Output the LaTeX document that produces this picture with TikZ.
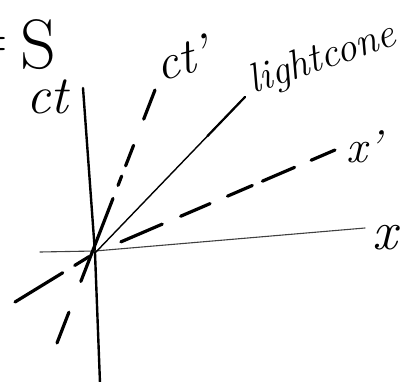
\documentclass[tikz,border=0pt]{standalone}
\usepackage{fontspec}
\usetikzlibrary{calc}
\begin{document}
\begin{tikzpicture}[x=1pt,y=-1pt, line cap=round,
  mainaxis/.style={line width=2.4pt},
  faintaxis/.style={line width=1.1pt, black!75},
  cone/.style={line width=1.4pt},
  dashline/.style={line width=3.2pt},
  lbl/.style={inner sep=0pt}]
\useasboundingbox (0,0) rectangle (413,381);
% coordinates
\coordinate (O) at (95,253);
\coordinate (ctTop) at (83,88);
\coordinate (ctBot) at (100,383);
\coordinate (xL) at (40,252);
\coordinate (xM) at (95,251);
\coordinate (xR) at (365,228);
\coordinate (lcTop) at (245,97);
\coordinate (ctpLo) at (57,343);
\coordinate (ctpHi) at (155,90);
\coordinate (xpLo) at (15,302);
\coordinate (xpHi) at (335,150);
% axes
\draw[mainaxis] (ctTop) -- (O) -- (ctBot);
\draw[faintaxis] (xL) -- (xM) -- (xR);
% light cone
\draw[cone] (O) -- (lcTop);
\draw[line width=2.2pt] ($(O)!0.75!(lcTop)$) -- (lcTop);
% ct' dashed
\draw[dashline, dash pattern=on 33pt off 33pt on 89pt off 14pt on 10pt off 11pt on 22pt off 28pt on 32pt off 10pt] (ctpLo) -- (ctpHi);
% x' dashed
\draw[dashline, dash pattern=on 56pt off 14pt on 17pt off 35pt on 45pt off 20pt on 32pt off 19pt on 27pt off 11pt on 35pt off 18pt on 26pt off 10pt] (xpLo) -- (O) -- (xpHi);
% labels
\node[lbl, font=\fontsize{70}{70}\selectfont] (S) at (38,45) {S};
\node[lbl, anchor=east, font=\fontsize{62}{62}\selectfont] (eq) at (8,48) {=};
\node[lbl, font=\itshape\fontsize{54}{54}\selectfont] (ct) at (47,97) {ct};
\node[lbl, rotate=15, font=\itshape\fontsize{50}{50}\selectfont] (ctp) at (182,58) {ct'};
\node[lbl, anchor=base, rotate=19, font=\itshape\fontsize{41}{41}\selectfont] (lc) at (326,69) {lightcone};
\node[lbl, font=\itshape\fontsize{55}{55}\selectfont] (xl) at (385,238) {x};
\node[lbl, font=\itshape\fontsize{46}{46}\selectfont] (xpl) at (364,147) {x'};
\end{tikzpicture}
\end{document}
